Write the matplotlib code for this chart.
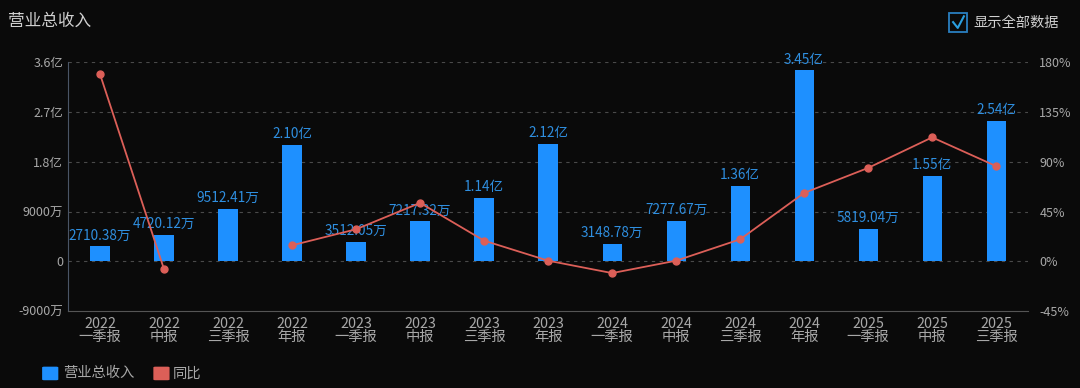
import numpy as np
import matplotlib
matplotlib.use('Agg')
import matplotlib.pyplot as plt
from matplotlib.patches import Rectangle, FancyBboxPatch

plt.rcParams['font.family'] = ['Noto Sans CJK SC', 'DejaVu Sans']

years = ['2022', '2022', '2022', '2022', '2023', '2023', '2023', '2023',
         '2024', '2024', '2024', '2024', '2025', '2025', '2025']
periods = ['一季报', '中报', '三季报', '年报', '一季报', '中报', '三季报', '年报',
           '一季报', '中报', '三季报', '年报', '一季报', '中报', '三季报']
# revenue, in 万
revenue = [2710.38, 4720.12, 9512.41, 21000, 3512.05, 7217.32, 11400, 21200,
           3148.78, 7277.67, 13600, 34500, 5819.04, 15500, 25400]
rev_labels = ['2710.38万', '4720.12万', '9512.41万', '2.10亿', '3512.05万', '7217.32万',
              '1.14亿', '2.12亿', '3148.78万', '7277.67万', '1.36亿', '3.45亿',
              '5819.04万', '1.55亿', '2.54亿']
# year-on-year, %
yoy = [169, -7.2, np.nan, 14.5, 29, 52.8, 18.7, 0.6, -10.6, 0.6, 19.9, 61.8, 84.4, 112, 86]

left_ticks = [-9000, 0, 9000, 18000, 27000, 36000]
left_tick_labels = ['-9000万', '0', '9000万', '1.8亿', '2.7亿', '3.6亿']
right_ticks = [-45, 0, 45, 90, 135, 180]
right_tick_labels = ['-45%', '0%', '45%', '90%', '135%', '180%']

bg = '#0a0a0a'
blue = '#1e90ff'
red = '#dc5f58'
grey = '#a8a8a8'

fig = plt.figure(figsize=(10.8, 3.88), dpi=100, facecolor=bg)
ax = fig.add_axes([0.063, 0.198, 0.889, 0.642], facecolor=bg)
x = np.arange(len(revenue))

ax.bar(x, revenue, width=0.3, color=blue, zorder=2)
for xi, v, lab in zip(x, revenue, rev_labels):
    ax.text(xi, v + 700, lab, color='#2f8fe0', fontsize=9.8, ha='center', va='bottom', zorder=4)

ax.set_xlim(-0.5, len(revenue) - 0.5)
ax.set_ylim(-9000, 36000)
ax.set_yticks(left_ticks)
ax.set_yticklabels(left_tick_labels)
ax.set_xticks(x)
ax.set_xticklabels([f'{y}\n{p}' for y, p in zip(years, periods)], linespacing=0.9)
ax.tick_params(axis='both', colors=grey, length=0)
ax.tick_params(axis='y', labelsize=9)
ax.tick_params(axis='x', labelsize=10.3, pad=4)
for t in left_ticks[1:]:
    ax.axhline(t, color='#4a4a4a', lw=0.8, ls=(0, (3, 4)), zorder=1)
for s in ['top', 'right']:
    ax.spines[s].set_visible(False)
ax.spines['left'].set_color('#4a5566')
ax.spines['bottom'].set_color('#555555')

ax2 = ax.twinx()
ax2.plot(x, yoy, color=red, lw=1.3, marker='o', ms=5, zorder=3)
ax2.set_ylim(-45, 180)
ax2.set_yticks(right_ticks)
ax2.set_yticklabels(right_tick_labels)
ax2.tick_params(axis='y', colors=grey, labelsize=9, length=0, pad=8)
for s in ax2.spines.values():
    s.set_visible(False)

fig.text(0.007, 0.945, '营业总收入', color='#d0d0d0', fontsize=12, va='center')

# checkbox
fig.patches.append(Rectangle((0.879, 0.9175), 0.0167, 0.049, transform=fig.transFigure,
                             fill=False, edgecolor='#2a7fc0', lw=1.3))
fig.lines.append(plt.Line2D([0.8825, 0.8868, 0.8925], [0.943, 0.928, 0.958],
                            transform=fig.transFigure, color='#2a9fe0', lw=1.5))
fig.text(0.901, 0.941, '显示全部数据', color='#d0d0d0', fontsize=10.3, va='center')

# legend
fig.patches.append(FancyBboxPatch((0.041, 0.022), 0.011, 0.031, boxstyle='round,pad=0.002',
                                  transform=fig.transFigure, facecolor=blue, edgecolor='none'))
fig.text(0.058, 0.038, '营业总收入', color=grey, fontsize=10.3, va='center')
fig.patches.append(FancyBboxPatch((0.144, 0.022), 0.011, 0.031, boxstyle='round,pad=0.002',
                                  transform=fig.transFigure, facecolor=red, edgecolor='none'))
fig.text(0.160, 0.038, '同比', color=grey, fontsize=10.3, va='center')

fig.savefig('out.png', dpi=100, facecolor=bg)
